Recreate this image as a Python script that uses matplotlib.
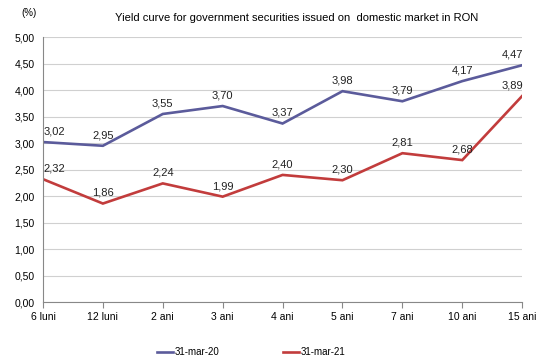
import matplotlib.pyplot as plt
import matplotlib as mpl
mpl.use('Agg')
mpl.rc("font", family=["Liberation Sans", "DejaVu Sans"], size=7.5)

maturities = ["6 luni", "12 luni", "2 ani", "3 ani", "4 ani", "5 ani", "7 ani", "10 ani", "15 ani"]
yield_mar20 = [3.02, 2.95, 3.55, 3.70, 3.37, 3.98, 3.79, 4.17, 4.47]
yield_mar21 = [2.32, 1.86, 2.24, 1.99, 2.40, 2.30, 2.81, 2.68, 3.89]
series_labels = ["31-mar-20", "31-mar-21"]
colors = ["#5b5b9b", "#c23c3c"]

fig = plt.figure(figsize=(5.4, 3.64), dpi=100)
ax = fig.add_axes([0.0796, 0.170, 0.8874, 0.728])

x = list(range(len(maturities)))
last = len(maturities) - 1
for vals, lab, col in zip([yield_mar20, yield_mar21], series_labels, colors):
    ax.plot(x, vals, color=col, lw=1.9, label=lab, solid_joinstyle="miter")
    for i, v in enumerate(vals):
        # keep the end labels inside the plot area
        dx = 8 if i == 0 else (-7 if i == last else 0)
        ax.annotate(f"{v:.2f}".replace(".", ","), (i, v), xytext=(dx, 4),
                    textcoords="offset points", ha="center", va="bottom",
                    fontsize=8, color="#222222")

ax.set_xlim(0, last)
ax.set_ylim(0, 5)
ax.set_xticks(x)
ax.set_xticklabels(maturities)
yt = [i * 0.5 for i in range(11)]
ax.set_yticks(yt)
ax.set_yticklabels([f"{v:.2f}".replace(".", ",") for v in yt])
ax.grid(axis="y", color="#d0d0d0", lw=0.8)
ax.set_axisbelow(True)
for s in ["top", "right"]:
    ax.spines[s].set_visible(False)
ax.spines["left"].set_color("#888888")
ax.spines["bottom"].set_color("#888888")
ax.tick_params(axis="x", direction="out", length=4, color="#888888", pad=3, labelsize=7.5)
ax.tick_params(axis="y", length=0, pad=6, labelsize=7.5)

fig.text(0.04, 0.965, "(%)", fontsize=7, ha="left", va="center")
fig.text(0.55, 0.951, "Yield curve for government securities issued on  domestic market in RON",
         fontsize=8, ha="center", va="center")

fig.legend(loc="center", bbox_to_anchor=(0.465, 0.033), ncol=2, frameon=False,
           fontsize=7, handlelength=1.65, handletextpad=0.1, columnspacing=6.6)

fig.savefig("out.png", dpi=100)
